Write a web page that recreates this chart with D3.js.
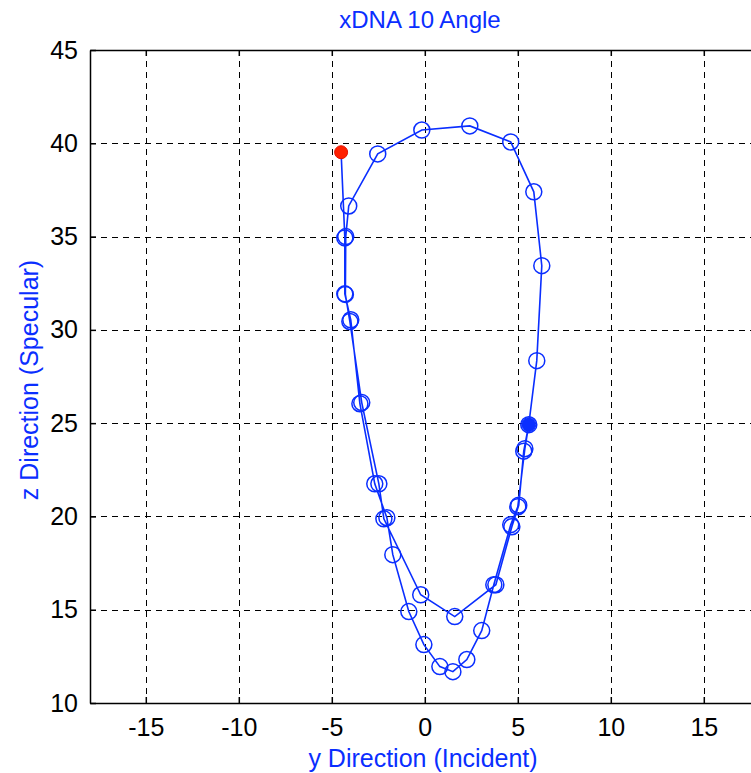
<!DOCTYPE html>
<html>
<head>
<meta charset="utf-8">
<script src="https://cdn.jsdelivr.net/npm/d3@7"></script>
<style>
  html, body { margin: 0; padding: 0; background: #fff; }
  svg { display: block; }
</style>
</head>
<body>
<svg id="chart" width="751" height="773"></svg>
<script>
// y direction (incident) and z direction (specular), in path order
const yDir = [-4.50, -4.30, -4.30, -3.98, -3.49, -2.69, -2.04, -1.72, -0.86, -0.05, 0.81, 1.51, 2.26, 3.06, 3.71,
  4.62, 5.00, 5.38, 5.59, 6.02, 6.29, 5.86, 4.62, 2.42, -0.16, -2.53, -4.09,
  -4.25, -4.27, -4.03, -3.39, -2.47, -2.20, -0.22, 1.61, 3.82, 4.68, 5.05, 5.32, 5.59];
const zDir = [39.52, 34.93, 31.93, 30.54, 26.04, 21.75, 19.93, 17.95, 14.90, 13.13, 11.95, 11.68, 12.33, 13.88, 16.34,
  19.56, 20.52, 23.63, 24.92, 28.35, 33.44, 37.40, 40.07, 40.93, 40.71, 39.43, 36.64,
  35.00, 31.90, 30.45, 26.10, 21.75, 19.87, 15.80, 14.63, 16.34, 19.45, 20.60, 23.50, 24.92];
const xTicks = [-15, -10, -5, 0, 5, 10, 15];
const yTicks = [10, 15, 20, 25, 30, 35, 40, 45];

(function () {
const width = 751, height = 773;
const margin = { top: 50, left: 90, bottom: 70 };
const blue = '#0a2eff';
const font = "'Liberation Sans', Arial, sans-serif";
const fmt = d => String(d);

const svg = d3.select('#chart');
const x = d3.scaleLinear().domain([-18, 20]).range([margin.left, margin.left + 38 * 18.6]);
const y = d3.scaleLinear().domain([10, 45]).range([height - margin.bottom, margin.top]);
const xRight = x(20), yBottom = y(10), yTop = y(45);

const points = yDir.map((v, i) => ({ y: v, z: zDir[i] }));

// grid
const grid = svg.append('g').attr('stroke', '#000').attr('stroke-width', 1).attr('stroke-dasharray', '6,5');
grid.selectAll('.gx').data(xTicks).enter().append('line')
  .attr('x1', d => Math.round(x(d)) + 0.5).attr('x2', d => Math.round(x(d)) + 0.5)
  .attr('y1', yTop).attr('y2', yBottom);
grid.selectAll('.gy').data(yTicks.slice(1, -1)).enter().append('line')
  .attr('y1', d => Math.round(y(d)) + 0.5).attr('y2', d => Math.round(y(d)) + 0.5)
  .attr('x1', margin.left).attr('x2', xRight);

// axes box with inward ticks
const axisBottom = d3.axisBottom(x).tickValues(xTicks).tickFormat(fmt).tickSizeInner(-6).tickSizeOuter(0).tickPadding(15);
const axisTop = d3.axisTop(x).tickValues(xTicks).tickSizeInner(-6).tickSizeOuter(0).tickFormat('');
const axisLeft = d3.axisLeft(y).tickValues(yTicks).tickFormat(fmt).tickSizeInner(-6).tickSizeOuter(0).tickPadding(12);

const styleAxis = g => {
  g.select('.domain').attr('stroke', '#000').attr('stroke-width', 1.5);
  g.selectAll('.tick line').attr('stroke', '#000').attr('stroke-width', 1.5);
  g.selectAll('text').attr('font-family', font).attr('font-size', 25).attr('fill', '#000');
};
svg.append('g').attr('transform', `translate(0,${yBottom})`).call(axisBottom).call(styleAxis);
svg.append('g').attr('transform', `translate(0,${yTop})`).call(axisTop).call(styleAxis);
svg.append('g').attr('transform', `translate(${margin.left},0)`).call(axisLeft).call(styleAxis);

// trajectory line
const line = d3.line().x(d => x(d.y)).y(d => y(d.z));
svg.append('path').datum(points)
  .attr('d', line)
  .attr('fill', 'none')
  .attr('stroke', blue)
  .attr('stroke-width', 1.6);

// hollow circle markers
svg.append('g').selectAll('circle').data(points.slice(1, -1)).enter().append('circle')
  .attr('cx', d => x(d.y)).attr('cy', d => y(d.z)).attr('r', 8)
  .attr('fill', 'none').attr('stroke', blue).attr('stroke-width', 1.5);

// start and end markers
const start = points[0], end = points[points.length - 1];
svg.append('circle').attr('cx', x(start.y)).attr('cy', y(start.z)).attr('r', 6.5)
  .attr('fill', '#ff2000').attr('stroke', '#e01000').attr('stroke-width', 1);
svg.append('circle').attr('cx', x(end.y)).attr('cy', y(end.z)).attr('r', 7)
  .attr('fill', blue).attr('stroke', blue).attr('stroke-width', 1);

// labels
svg.append('text').attr('x', 420).attr('y', 28).attr('text-anchor', 'middle')
  .attr('font-family', font).attr('font-size', 24).attr('fill', blue).text('xDNA 10 Angle');
svg.append('text').attr('x', 423).attr('y', 767).attr('text-anchor', 'middle')
  .attr('font-family', font).attr('font-size', 25).attr('fill', blue).text('y Direction (Incident)');
svg.append('text').attr('transform', 'translate(38,380) rotate(-90)').attr('text-anchor', 'middle')
  .attr('font-family', font).attr('font-size', 25).attr('fill', blue).text('z Direction (Specular)');
})();
</script>
</body>
</html>
